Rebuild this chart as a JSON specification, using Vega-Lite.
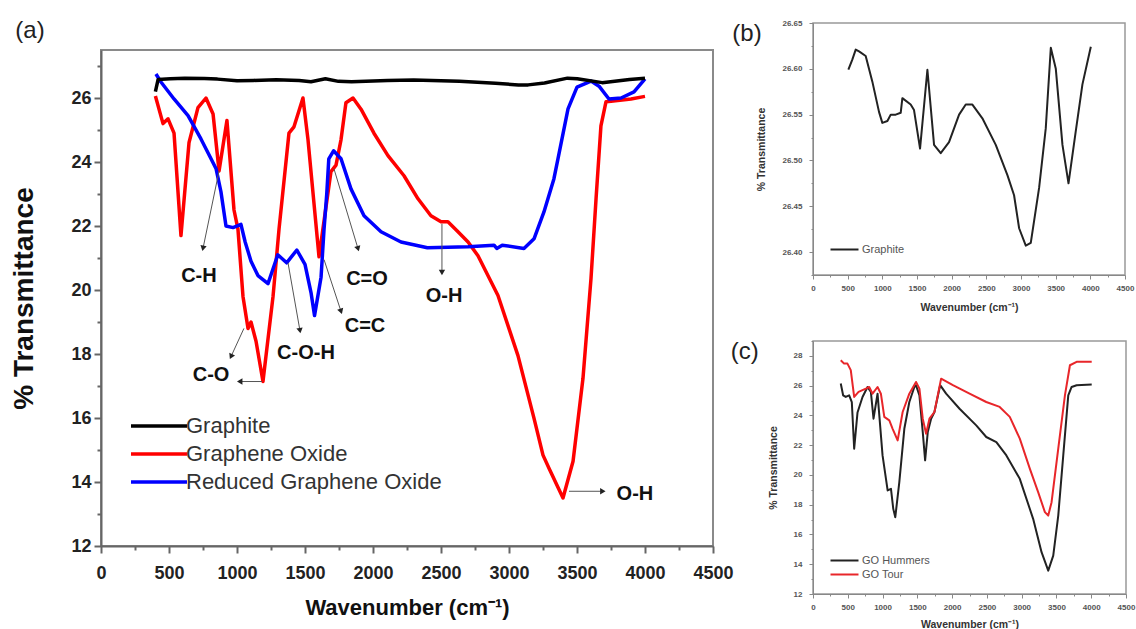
{
  "$schema": "https://vega.github.io/schema/vega-lite/v6.json",
  "background": "white",
  "padding": {"left": 9, "top": 18, "right": 0, "bottom": 0},
  "config": {
    "font": "Liberation Sans",
    "axis": {"grid": false, "labelFlush": false, "labelOverlap": false, "tickCount": 100}
  },
  "datasets": {
    "spectraA": [
      {"series": "Graphene Oxide", "wavenumber": 400, "transmittance": 26.06},
      {"series": "Graphene Oxide", "wavenumber": 456, "transmittance": 25.2},
      {"series": "Graphene Oxide", "wavenumber": 493, "transmittance": 25.35},
      {"series": "Graphene Oxide", "wavenumber": 537, "transmittance": 24.9},
      {"series": "Graphene Oxide", "wavenumber": 588, "transmittance": 21.7},
      {"series": "Graphene Oxide", "wavenumber": 647, "transmittance": 24.6},
      {"series": "Graphene Oxide", "wavenumber": 713, "transmittance": 25.7},
      {"series": "Graphene Oxide", "wavenumber": 772, "transmittance": 26.0},
      {"series": "Graphene Oxide", "wavenumber": 824, "transmittance": 25.5},
      {"series": "Graphene Oxide", "wavenumber": 868, "transmittance": 23.72},
      {"series": "Graphene Oxide", "wavenumber": 926, "transmittance": 25.3},
      {"series": "Graphene Oxide", "wavenumber": 978, "transmittance": 22.5},
      {"series": "Graphene Oxide", "wavenumber": 1007, "transmittance": 21.9},
      {"series": "Graphene Oxide", "wavenumber": 1044, "transmittance": 19.8},
      {"series": "Graphene Oxide", "wavenumber": 1081, "transmittance": 18.8},
      {"series": "Graphene Oxide", "wavenumber": 1103, "transmittance": 19.0},
      {"series": "Graphene Oxide", "wavenumber": 1140, "transmittance": 18.4},
      {"series": "Graphene Oxide", "wavenumber": 1191, "transmittance": 17.14},
      {"series": "Graphene Oxide", "wavenumber": 1265, "transmittance": 19.8},
      {"series": "Graphene Oxide", "wavenumber": 1309, "transmittance": 21.9},
      {"series": "Graphene Oxide", "wavenumber": 1382, "transmittance": 24.9},
      {"series": "Graphene Oxide", "wavenumber": 1419, "transmittance": 25.1},
      {"series": "Graphene Oxide", "wavenumber": 1485, "transmittance": 26.0},
      {"series": "Graphene Oxide", "wavenumber": 1522, "transmittance": 24.7},
      {"series": "Graphene Oxide", "wavenumber": 1603, "transmittance": 21.04},
      {"series": "Graphene Oxide", "wavenumber": 1691, "transmittance": 23.7},
      {"series": "Graphene Oxide", "wavenumber": 1728, "transmittance": 23.9},
      {"series": "Graphene Oxide", "wavenumber": 1765, "transmittance": 24.7},
      {"series": "Graphene Oxide", "wavenumber": 1801, "transmittance": 25.85},
      {"series": "Graphene Oxide", "wavenumber": 1853, "transmittance": 26.0},
      {"series": "Graphene Oxide", "wavenumber": 1912, "transmittance": 25.65},
      {"series": "Graphene Oxide", "wavenumber": 2007, "transmittance": 24.9},
      {"series": "Graphene Oxide", "wavenumber": 2110, "transmittance": 24.2},
      {"series": "Graphene Oxide", "wavenumber": 2228, "transmittance": 23.57},
      {"series": "Graphene Oxide", "wavenumber": 2331, "transmittance": 22.85},
      {"series": "Graphene Oxide", "wavenumber": 2426, "transmittance": 22.32},
      {"series": "Graphene Oxide", "wavenumber": 2500, "transmittance": 22.13},
      {"series": "Graphene Oxide", "wavenumber": 2551, "transmittance": 22.13},
      {"series": "Graphene Oxide", "wavenumber": 2625, "transmittance": 21.82},
      {"series": "Graphene Oxide", "wavenumber": 2699, "transmittance": 21.5},
      {"series": "Graphene Oxide", "wavenumber": 2772, "transmittance": 21.07},
      {"series": "Graphene Oxide", "wavenumber": 2919, "transmittance": 19.83},
      {"series": "Graphene Oxide", "wavenumber": 3066, "transmittance": 17.95},
      {"series": "Graphene Oxide", "wavenumber": 3184, "transmittance": 15.99},
      {"series": "Graphene Oxide", "wavenumber": 3250, "transmittance": 14.84},
      {"series": "Graphene Oxide", "wavenumber": 3294, "transmittance": 14.43},
      {"series": "Graphene Oxide", "wavenumber": 3397, "transmittance": 13.5},
      {"series": "Graphene Oxide", "wavenumber": 3471, "transmittance": 14.65},
      {"series": "Graphene Oxide", "wavenumber": 3544, "transmittance": 17.24},
      {"series": "Graphene Oxide", "wavenumber": 3603, "transmittance": 20.36},
      {"series": "Graphene Oxide", "wavenumber": 3640, "transmittance": 22.85},
      {"series": "Graphene Oxide", "wavenumber": 3676, "transmittance": 25.13},
      {"series": "Graphene Oxide", "wavenumber": 3713, "transmittance": 25.88},
      {"series": "Graphene Oxide", "wavenumber": 3750, "transmittance": 25.9},
      {"series": "Graphene Oxide", "wavenumber": 3897, "transmittance": 25.97},
      {"series": "Graphene Oxide", "wavenumber": 4000, "transmittance": 26.05},
      {"series": "Reduced Graphene Oxide", "wavenumber": 404, "transmittance": 26.75},
      {"series": "Reduced Graphene Oxide", "wavenumber": 441, "transmittance": 26.5},
      {"series": "Reduced Graphene Oxide", "wavenumber": 537, "transmittance": 25.97},
      {"series": "Reduced Graphene Oxide", "wavenumber": 640, "transmittance": 25.45},
      {"series": "Reduced Graphene Oxide", "wavenumber": 735, "transmittance": 24.72},
      {"series": "Reduced Graphene Oxide", "wavenumber": 809, "transmittance": 24.1},
      {"series": "Reduced Graphene Oxide", "wavenumber": 846, "transmittance": 23.79},
      {"series": "Reduced Graphene Oxide", "wavenumber": 882, "transmittance": 23.07},
      {"series": "Reduced Graphene Oxide", "wavenumber": 919, "transmittance": 22.0},
      {"series": "Reduced Graphene Oxide", "wavenumber": 971, "transmittance": 21.95},
      {"series": "Reduced Graphene Oxide", "wavenumber": 1029, "transmittance": 22.05},
      {"series": "Reduced Graphene Oxide", "wavenumber": 1060, "transmittance": 21.5},
      {"series": "Reduced Graphene Oxide", "wavenumber": 1103, "transmittance": 20.9},
      {"series": "Reduced Graphene Oxide", "wavenumber": 1154, "transmittance": 20.45},
      {"series": "Reduced Graphene Oxide", "wavenumber": 1228, "transmittance": 20.2},
      {"series": "Reduced Graphene Oxide", "wavenumber": 1260, "transmittance": 20.6},
      {"series": "Reduced Graphene Oxide", "wavenumber": 1300, "transmittance": 21.1},
      {"series": "Reduced Graphene Oxide", "wavenumber": 1365, "transmittance": 20.85},
      {"series": "Reduced Graphene Oxide", "wavenumber": 1440, "transmittance": 21.25},
      {"series": "Reduced Graphene Oxide", "wavenumber": 1500, "transmittance": 20.8},
      {"series": "Reduced Graphene Oxide", "wavenumber": 1545, "transmittance": 19.9},
      {"series": "Reduced Graphene Oxide", "wavenumber": 1570, "transmittance": 19.2},
      {"series": "Reduced Graphene Oxide", "wavenumber": 1618, "transmittance": 20.4},
      {"series": "Reduced Graphene Oxide", "wavenumber": 1640, "transmittance": 21.9},
      {"series": "Reduced Graphene Oxide", "wavenumber": 1660, "transmittance": 23.0},
      {"series": "Reduced Graphene Oxide", "wavenumber": 1675, "transmittance": 24.1},
      {"series": "Reduced Graphene Oxide", "wavenumber": 1710, "transmittance": 24.35},
      {"series": "Reduced Graphene Oxide", "wavenumber": 1765, "transmittance": 24.1},
      {"series": "Reduced Graphene Oxide", "wavenumber": 1838, "transmittance": 23.16},
      {"series": "Reduced Graphene Oxide", "wavenumber": 1934, "transmittance": 22.32},
      {"series": "Reduced Graphene Oxide", "wavenumber": 2059, "transmittance": 21.82},
      {"series": "Reduced Graphene Oxide", "wavenumber": 2206, "transmittance": 21.5},
      {"series": "Reduced Graphene Oxide", "wavenumber": 2400, "transmittance": 21.32},
      {"series": "Reduced Graphene Oxide", "wavenumber": 2700, "transmittance": 21.35},
      {"series": "Reduced Graphene Oxide", "wavenumber": 2890, "transmittance": 21.4},
      {"series": "Reduced Graphene Oxide", "wavenumber": 2910, "transmittance": 21.3},
      {"series": "Reduced Graphene Oxide", "wavenumber": 2950, "transmittance": 21.4},
      {"series": "Reduced Graphene Oxide", "wavenumber": 3110, "transmittance": 21.3},
      {"series": "Reduced Graphene Oxide", "wavenumber": 3184, "transmittance": 21.6},
      {"series": "Reduced Graphene Oxide", "wavenumber": 3257, "transmittance": 22.44},
      {"series": "Reduced Graphene Oxide", "wavenumber": 3330, "transmittance": 23.47},
      {"series": "Reduced Graphene Oxide", "wavenumber": 3360, "transmittance": 24.1},
      {"series": "Reduced Graphene Oxide", "wavenumber": 3434, "transmittance": 25.66},
      {"series": "Reduced Graphene Oxide", "wavenumber": 3500, "transmittance": 26.34},
      {"series": "Reduced Graphene Oxide", "wavenumber": 3603, "transmittance": 26.53},
      {"series": "Reduced Graphene Oxide", "wavenumber": 3662, "transmittance": 26.37},
      {"series": "Reduced Graphene Oxide", "wavenumber": 3735, "transmittance": 25.97},
      {"series": "Reduced Graphene Oxide", "wavenumber": 3824, "transmittance": 26.0},
      {"series": "Reduced Graphene Oxide", "wavenumber": 3919, "transmittance": 26.19},
      {"series": "Reduced Graphene Oxide", "wavenumber": 4000, "transmittance": 26.6},
      {"series": "Graphite", "wavenumber": 400, "transmittance": 26.2},
      {"series": "Graphite", "wavenumber": 420, "transmittance": 26.58},
      {"series": "Graphite", "wavenumber": 510, "transmittance": 26.6},
      {"series": "Graphite", "wavenumber": 616, "transmittance": 26.62},
      {"series": "Graphite", "wavenumber": 760, "transmittance": 26.61},
      {"series": "Graphite", "wavenumber": 856, "transmittance": 26.59},
      {"series": "Graphite", "wavenumber": 1000, "transmittance": 26.54},
      {"series": "Graphite", "wavenumber": 1121, "transmittance": 26.55},
      {"series": "Graphite", "wavenumber": 1289, "transmittance": 26.57},
      {"series": "Graphite", "wavenumber": 1457, "transmittance": 26.55},
      {"series": "Graphite", "wavenumber": 1544, "transmittance": 26.51},
      {"series": "Graphite", "wavenumber": 1650, "transmittance": 26.6},
      {"series": "Graphite", "wavenumber": 1746, "transmittance": 26.52},
      {"series": "Graphite", "wavenumber": 1842, "transmittance": 26.51},
      {"series": "Graphite", "wavenumber": 2107, "transmittance": 26.55},
      {"series": "Graphite", "wavenumber": 2299, "transmittance": 26.56},
      {"series": "Graphite", "wavenumber": 2636, "transmittance": 26.52},
      {"series": "Graphite", "wavenumber": 2900, "transmittance": 26.46},
      {"series": "Graphite", "wavenumber": 3069, "transmittance": 26.41},
      {"series": "Graphite", "wavenumber": 3141, "transmittance": 26.41},
      {"series": "Graphite", "wavenumber": 3261, "transmittance": 26.47},
      {"series": "Graphite", "wavenumber": 3430, "transmittance": 26.62},
      {"series": "Graphite", "wavenumber": 3502, "transmittance": 26.6},
      {"series": "Graphite", "wavenumber": 3685, "transmittance": 26.48},
      {"series": "Graphite", "wavenumber": 3886, "transmittance": 26.58},
      {"series": "Graphite", "wavenumber": 4000, "transmittance": 26.62}
    ],
    "arrowsA": [
      {"wavenumber": 868, "transmittance": 23.72, "wavenumber2": 750, "transmittance2": 21.3},
      {"wavenumber": 1051, "transmittance": 18.8, "wavenumber2": 956, "transmittance2": 17.92},
      {"wavenumber": 1185, "transmittance": 17.14, "wavenumber2": 1020, "transmittance2": 17.14},
      {"wavenumber": 1375, "transmittance": 20.85, "wavenumber2": 1463, "transmittance2": 18.73},
      {"wavenumber": 1640, "transmittance": 20.95, "wavenumber2": 1765, "transmittance2": 19.33},
      {"wavenumber": 1713, "transmittance": 23.79, "wavenumber2": 1890, "transmittance2": 21.29},
      {"wavenumber": 2507, "transmittance": 22.07, "wavenumber2": 2507, "transmittance2": 20.55},
      {"wavenumber": 3441, "transmittance": 13.71, "wavenumber2": 3690, "transmittance2": 13.71}
    ],
    "labelsA": [
      {"label": "C-H", "wavenumber": 720, "transmittance": 20.45},
      {"label": "C=O", "wavenumber": 1956, "transmittance": 20.33},
      {"label": "C=C", "wavenumber": 1941, "transmittance": 18.86},
      {"label": "C-O-H", "wavenumber": 1507, "transmittance": 18.02},
      {"label": "C-O", "wavenumber": 809, "transmittance": 17.33},
      {"label": "O-H", "wavenumber": 2522, "transmittance": 19.8},
      {"label": "O-H", "wavenumber": 3926, "transmittance": 13.62}
    ],
    "graphiteB": [
      {"series": "Graphite", "wavenumber": 510, "transmittance": 26.599},
      {"series": "Graphite", "wavenumber": 567, "transmittance": 26.61},
      {"series": "Graphite", "wavenumber": 616, "transmittance": 26.621},
      {"series": "Graphite", "wavenumber": 664, "transmittance": 26.619},
      {"series": "Graphite", "wavenumber": 760, "transmittance": 26.614},
      {"series": "Graphite", "wavenumber": 856, "transmittance": 26.586},
      {"series": "Graphite", "wavenumber": 952, "transmittance": 26.553},
      {"series": "Graphite", "wavenumber": 1000, "transmittance": 26.541},
      {"series": "Graphite", "wavenumber": 1073, "transmittance": 26.543},
      {"series": "Graphite", "wavenumber": 1121, "transmittance": 26.55},
      {"series": "Graphite", "wavenumber": 1193, "transmittance": 26.55},
      {"series": "Graphite", "wavenumber": 1265, "transmittance": 26.552},
      {"series": "Graphite", "wavenumber": 1289, "transmittance": 26.568},
      {"series": "Graphite", "wavenumber": 1409, "transmittance": 26.561},
      {"series": "Graphite", "wavenumber": 1457, "transmittance": 26.555},
      {"series": "Graphite", "wavenumber": 1544, "transmittance": 26.513},
      {"series": "Graphite", "wavenumber": 1650, "transmittance": 26.599},
      {"series": "Graphite", "wavenumber": 1746, "transmittance": 26.517},
      {"series": "Graphite", "wavenumber": 1842, "transmittance": 26.508},
      {"series": "Graphite", "wavenumber": 1962, "transmittance": 26.52},
      {"series": "Graphite", "wavenumber": 2107, "transmittance": 26.55},
      {"series": "Graphite", "wavenumber": 2203, "transmittance": 26.561},
      {"series": "Graphite", "wavenumber": 2299, "transmittance": 26.561},
      {"series": "Graphite", "wavenumber": 2443, "transmittance": 26.546},
      {"series": "Graphite", "wavenumber": 2636, "transmittance": 26.517},
      {"series": "Graphite", "wavenumber": 2804, "transmittance": 26.484},
      {"series": "Graphite", "wavenumber": 2900, "transmittance": 26.462},
      {"series": "Graphite", "wavenumber": 2973, "transmittance": 26.426},
      {"series": "Graphite", "wavenumber": 3069, "transmittance": 26.407},
      {"series": "Graphite", "wavenumber": 3141, "transmittance": 26.41},
      {"series": "Graphite", "wavenumber": 3261, "transmittance": 26.47},
      {"series": "Graphite", "wavenumber": 3357, "transmittance": 26.535},
      {"series": "Graphite", "wavenumber": 3430, "transmittance": 26.623},
      {"series": "Graphite", "wavenumber": 3502, "transmittance": 26.6},
      {"series": "Graphite", "wavenumber": 3598, "transmittance": 26.517},
      {"series": "Graphite", "wavenumber": 3685, "transmittance": 26.475},
      {"series": "Graphite", "wavenumber": 3790, "transmittance": 26.532},
      {"series": "Graphite", "wavenumber": 3886, "transmittance": 26.583},
      {"series": "Graphite", "wavenumber": 4007, "transmittance": 26.624}
    ],
    "spectraC": [
      {"series": "GO Hummers", "wavenumber": 399, "transmittance": 26.14},
      {"series": "GO Hummers", "wavenumber": 433, "transmittance": 25.35},
      {"series": "GO Hummers", "wavenumber": 471, "transmittance": 25.24},
      {"series": "GO Hummers", "wavenumber": 520, "transmittance": 25.35},
      {"series": "GO Hummers", "wavenumber": 558, "transmittance": 24.9},
      {"series": "GO Hummers", "wavenumber": 592, "transmittance": 21.76},
      {"series": "GO Hummers", "wavenumber": 640, "transmittance": 24.2},
      {"series": "GO Hummers", "wavenumber": 712, "transmittance": 25.24},
      {"series": "GO Hummers", "wavenumber": 784, "transmittance": 25.91},
      {"series": "GO Hummers", "wavenumber": 832, "transmittance": 25.58},
      {"series": "GO Hummers", "wavenumber": 870, "transmittance": 23.78},
      {"series": "GO Hummers", "wavenumber": 928, "transmittance": 25.46},
      {"series": "GO Hummers", "wavenumber": 1000, "transmittance": 21.31},
      {"series": "GO Hummers", "wavenumber": 1073, "transmittance": 18.96},
      {"series": "GO Hummers", "wavenumber": 1121, "transmittance": 19.07},
      {"series": "GO Hummers", "wavenumber": 1154, "transmittance": 17.72},
      {"series": "GO Hummers", "wavenumber": 1183, "transmittance": 17.16},
      {"series": "GO Hummers", "wavenumber": 1241, "transmittance": 19.52},
      {"series": "GO Hummers", "wavenumber": 1313, "transmittance": 23.1},
      {"series": "GO Hummers", "wavenumber": 1385, "transmittance": 24.9},
      {"series": "GO Hummers", "wavenumber": 1457, "transmittance": 25.91},
      {"series": "GO Hummers", "wavenumber": 1481, "transmittance": 26.03},
      {"series": "GO Hummers", "wavenumber": 1530, "transmittance": 25.35},
      {"series": "GO Hummers", "wavenumber": 1578, "transmittance": 22.88},
      {"series": "GO Hummers", "wavenumber": 1612, "transmittance": 20.98},
      {"series": "GO Hummers", "wavenumber": 1650, "transmittance": 22.88},
      {"series": "GO Hummers", "wavenumber": 1698, "transmittance": 23.78},
      {"series": "GO Hummers", "wavenumber": 1746, "transmittance": 24.23},
      {"series": "GO Hummers", "wavenumber": 1828, "transmittance": 26.03},
      {"series": "GO Hummers", "wavenumber": 1914, "transmittance": 25.46},
      {"series": "GO Hummers", "wavenumber": 2107, "transmittance": 24.45},
      {"series": "GO Hummers", "wavenumber": 2347, "transmittance": 23.33},
      {"series": "GO Hummers", "wavenumber": 2491, "transmittance": 22.55},
      {"series": "GO Hummers", "wavenumber": 2636, "transmittance": 22.21},
      {"series": "GO Hummers", "wavenumber": 2780, "transmittance": 21.31},
      {"series": "GO Hummers", "wavenumber": 2973, "transmittance": 19.74},
      {"series": "GO Hummers", "wavenumber": 3165, "transmittance": 17.05},
      {"series": "GO Hummers", "wavenumber": 3286, "transmittance": 14.81},
      {"series": "GO Hummers", "wavenumber": 3382, "transmittance": 13.57},
      {"series": "GO Hummers", "wavenumber": 3454, "transmittance": 14.58},
      {"series": "GO Hummers", "wavenumber": 3526, "transmittance": 17.27},
      {"series": "GO Hummers", "wavenumber": 3598, "transmittance": 21.31},
      {"series": "GO Hummers", "wavenumber": 3670, "transmittance": 25.35},
      {"series": "GO Hummers", "wavenumber": 3718, "transmittance": 25.91},
      {"series": "GO Hummers", "wavenumber": 3790, "transmittance": 26.03},
      {"series": "GO Hummers", "wavenumber": 4007, "transmittance": 26.07},
      {"series": "GO Tour", "wavenumber": 399, "transmittance": 27.71},
      {"series": "GO Tour", "wavenumber": 447, "transmittance": 27.48},
      {"series": "GO Tour", "wavenumber": 495, "transmittance": 27.48},
      {"series": "GO Tour", "wavenumber": 543, "transmittance": 27.04},
      {"series": "GO Tour", "wavenumber": 592, "transmittance": 25.24},
      {"series": "GO Tour", "wavenumber": 655, "transmittance": 25.58},
      {"series": "GO Tour", "wavenumber": 760, "transmittance": 25.8},
      {"series": "GO Tour", "wavenumber": 808, "transmittance": 25.91},
      {"series": "GO Tour", "wavenumber": 856, "transmittance": 25.46},
      {"series": "GO Tour", "wavenumber": 928, "transmittance": 25.91},
      {"series": "GO Tour", "wavenumber": 976, "transmittance": 25.46},
      {"series": "GO Tour", "wavenumber": 1025, "transmittance": 23.9},
      {"series": "GO Tour", "wavenumber": 1097, "transmittance": 23.67},
      {"series": "GO Tour", "wavenumber": 1145, "transmittance": 23.1},
      {"series": "GO Tour", "wavenumber": 1217, "transmittance": 22.32},
      {"series": "GO Tour", "wavenumber": 1289, "transmittance": 24.23},
      {"series": "GO Tour", "wavenumber": 1385, "transmittance": 25.46},
      {"series": "GO Tour", "wavenumber": 1481, "transmittance": 26.25},
      {"series": "GO Tour", "wavenumber": 1530, "transmittance": 25.8},
      {"series": "GO Tour", "wavenumber": 1578, "transmittance": 23.78},
      {"series": "GO Tour", "wavenumber": 1626, "transmittance": 22.77},
      {"series": "GO Tour", "wavenumber": 1674, "transmittance": 23.78},
      {"series": "GO Tour", "wavenumber": 1746, "transmittance": 24.23},
      {"series": "GO Tour", "wavenumber": 1842, "transmittance": 26.47},
      {"series": "GO Tour", "wavenumber": 2011, "transmittance": 26.03},
      {"series": "GO Tour", "wavenumber": 2251, "transmittance": 25.46},
      {"series": "GO Tour", "wavenumber": 2491, "transmittance": 24.9},
      {"series": "GO Tour", "wavenumber": 2684, "transmittance": 24.57},
      {"series": "GO Tour", "wavenumber": 2829, "transmittance": 23.9},
      {"series": "GO Tour", "wavenumber": 2973, "transmittance": 22.44},
      {"series": "GO Tour", "wavenumber": 3117, "transmittance": 20.42},
      {"series": "GO Tour", "wavenumber": 3237, "transmittance": 18.85},
      {"series": "GO Tour", "wavenumber": 3334, "transmittance": 17.5},
      {"series": "GO Tour", "wavenumber": 3382, "transmittance": 17.27},
      {"series": "GO Tour", "wavenumber": 3430, "transmittance": 18.17},
      {"series": "GO Tour", "wavenumber": 3526, "transmittance": 21.76},
      {"series": "GO Tour", "wavenumber": 3622, "transmittance": 25.35},
      {"series": "GO Tour", "wavenumber": 3694, "transmittance": 27.37},
      {"series": "GO Tour", "wavenumber": 3790, "transmittance": 27.6},
      {"series": "GO Tour", "wavenumber": 4007, "transmittance": 27.6}
    ]
  },
  "spacing": -5,
  "resolve": {"scale": {"color": "independent"}, "legend": {"color": "independent"}},
  "hconcat": [
    {
      "spacing": -6,
      "vconcat": [
        {
          "width": 612,
          "height": 1,
          "view": {"stroke": null},
          "data": {"values": []},
          "mark": {"type": "point", "opacity": 0},
          "encoding": {}
        },
        {
          "width": 612,
          "height": 496,
          "view": {"stroke": "#8a8a8a", "strokeWidth": 2},
          "layer": [
            {
              "data": {"name": "spectraA"},
              "mark": {"type": "line", "strokeWidth": 3.5, "strokeJoin": "round"},
              "encoding": {
                "x": {"field": "wavenumber", "type": "quantitative", "scale": {"domain": [0, 4500], "nice": false},
                  "axis": {"title": "Wavenumber (cm⁻¹)", "values": [0,250,500,750,1000,1250,1500,1750,2000,2250,2500,2750,3000,3250,3500,3750,4000,4250,4500], "format": "d", "tickCount": 100,
                    "labelExpr": "datum.value % 500 === 0 ? datum.label : ''",
                    "tickSize": {"condition": {"test": "datum.value % 500 !== 0", "value": 4}, "value": 7},
                    "labelFontSize": 18, "labelFontWeight": "bold", "labelColor": "#222", "labelPadding": 11,
                    "titleFontSize": 22, "titleFontWeight": "bold", "titleColor": "#111", "titlePadding": 15,
                    "domainColor": "#666", "domainWidth": 2, "tickColor": "#666", "tickWidth": 2}},
                "y": {"field": "transmittance", "type": "quantitative", "scale": {"domain": [12, 27.5], "nice": false, "zero": false},
                  "axis": {"title": "% Transmittance", "values": [12,13,14,15,16,17,18,19,20,21,22,23,24,25,26,27], "format": "d", "tickCount": 100,
                    "labelExpr": "datum.value % 2 === 0 ? datum.label : ''",
                    "tickSize": {"condition": {"test": "datum.value % 2 !== 0", "value": 4}, "value": 7},
                    "labelFontSize": 18, "labelFontWeight": "bold", "labelColor": "#222", "labelPadding": 3,
                    "titleFontSize": 28, "titleFontWeight": "bold", "titleColor": "#111", "titlePadding": 32,
                    "domainColor": "#666", "domainWidth": 2, "tickColor": "#666", "tickWidth": 2}},
                "color": {"field": "series", "type": "nominal",
                  "scale": {"domain": ["Graphite", "Graphene Oxide", "Reduced Graphene Oxide"], "range": ["#000000", "#ff0000", "#0000ff"]},
                  "legend": {"title": null, "orient": "none", "legendX": 28, "legendY": 391, "padding": 0,
                    "symbolType": "M-1,0H4.6", "symbolSize": 400, "symbolStrokeWidth": 3.5,
                    "labelFontSize": 22, "labelColor": "#333", "labelOffset": 33, "labelLimit": 0, "rowPadding": 5}}
              }
            },
            {
              "data": {"name": "arrowsA"},
              "mark": {"type": "rule", "color": "#555", "strokeWidth": 1},
              "encoding": {
                "x": {"field": "wavenumber", "type": "quantitative"},
                "y": {"field": "transmittance", "type": "quantitative"},
                "x2": {"field": "wavenumber2"},
                "y2": {"field": "transmittance2"}
              }
            },
            {
              "data": {"name": "arrowsA"},
              "transform": [{"calculate": "atan2((datum.wavenumber2 - datum.wavenumber) * 612 / 4500, (datum.transmittance2 - datum.transmittance) * 496 / 15.5) * 180 / PI", "as": "heading"}],
              "mark": {"type": "point", "shape": "triangle-up", "filled": true, "color": "#222", "size": 40, "opacity": 1},
              "encoding": {
                "x": {"field": "wavenumber2", "type": "quantitative"},
                "y": {"field": "transmittance2", "type": "quantitative"},
                "angle": {"field": "heading", "type": "quantitative", "scale": null}
              }
            },
            {
              "data": {"name": "labelsA"},
              "mark": {"type": "text", "fontSize": 20, "fontWeight": "bold", "color": "#111"},
              "encoding": {
                "x": {"field": "wavenumber", "type": "quantitative"},
                "y": {"field": "transmittance", "type": "quantitative"},
                "text": {"field": "label"}
              }
            },
            {
              "data": {"values": [{"panel": "(a)"}]},
              "mark": {"type": "text", "fontSize": 24, "color": "#222", "align": "center", "baseline": "middle"},
              "encoding": {
                "x": {"datum": -522},
                "y": {"datum": 28.09},
                "text": {"field": "panel"}
              }
            }
          ]
        }
      ]
    },
    {
      "spacing": 22,
      "resolve": {"scale": {"color": "independent"}, "legend": {"color": "independent"}},
      "vconcat": [
        {
          "width": 312,
          "height": 252,
          "view": {"stroke": "#999", "strokeWidth": 1.5},
          "layer": [
            {
              "data": {"name": "graphiteB"},
              "mark": {"type": "line", "strokeWidth": 2, "strokeJoin": "round"},
              "encoding": {
                "x": {"field": "wavenumber", "type": "quantitative", "scale": {"domain": [0, 4500], "nice": false},
                  "axis": {"title": "Wavenumber (cm⁻¹)", "values": [0,250,500,750,1000,1250,1500,1750,2000,2250,2500,2750,3000,3250,3500,3750,4000,4250,4500], "format": "d", "tickCount": 100,
                    "labelExpr": "datum.value % 500 === 0 ? datum.label : ''",
                    "tickSize": {"condition": {"test": "datum.value % 500 !== 0", "value": 2}, "value": 4},
                    "labelFontSize": 8, "labelFontWeight": "bold", "labelColor": "#555", "labelPadding": 5,
                    "titleFontSize": 10.5, "titleFontWeight": "bold", "titleColor": "#333", "titlePadding": 10,
                    "domainColor": "#888", "tickColor": "#888"}},
                "y": {"field": "transmittance", "type": "quantitative", "scale": {"domain": [26.375, 26.65], "nice": false, "zero": false},
                  "axis": {"title": "% Transmittance", "values": [26.375,26.4,26.425,26.45,26.475,26.5,26.525,26.55,26.575,26.6,26.625,26.65], "format": ".2f", "tickCount": 100,
                    "labelExpr": "abs(datum.value * 20 - round(datum.value * 20)) < 0.01 ? datum.label : ''",
                    "tickSize": {"condition": {"test": "abs(datum.value * 20 - round(datum.value * 20)) >= 0.01", "value": 2}, "value": 4},
                    "labelFontSize": 8, "labelFontWeight": "bold", "labelColor": "#555", "labelPadding": 7,
                    "titleFontSize": 10.5, "titleFontWeight": "bold", "titleColor": "#333", "titlePadding": 15,
                    "domainColor": "#888", "tickColor": "#888"}},
                "color": {"field": "series", "type": "nominal",
                  "scale": {"domain": ["Graphite"], "range": ["#222222"]},
                  "legend": {"title": null, "orient": "none", "legendX": 16, "legendY": 221, "padding": 0,
                    "symbolType": "M-1,0H6", "symbolSize": 64, "symbolStrokeWidth": 2,
                    "labelFontSize": 11, "labelColor": "#555", "labelOffset": 22, "labelLimit": 0}}
              }
            },
            {
              "data": {"values": [{"panel": "(b)"}]},
              "mark": {"type": "text", "fontSize": 24, "color": "#222", "align": "center", "baseline": "middle"},
              "encoding": {
                "x": {"datum": -952},
                "y": {"datum": 26.638},
                "text": {"field": "panel"}
              }
            }
          ]
        },
        {
          "width": 313,
          "height": 253,
          "view": {"stroke": "#999", "strokeWidth": 1.5},
          "layer": [
            {
              "data": {"name": "spectraC"},
              "mark": {"type": "line", "strokeWidth": 2, "strokeJoin": "round"},
              "encoding": {
                "x": {"field": "wavenumber", "type": "quantitative", "scale": {"domain": [0, 4500], "nice": false},
                  "axis": {"title": "Wavenumber (cm⁻¹)", "values": [0,250,500,750,1000,1250,1500,1750,2000,2250,2500,2750,3000,3250,3500,3750,4000,4250,4500], "format": "d", "tickCount": 100,
                    "labelExpr": "datum.value % 500 === 0 ? datum.label : ''",
                    "tickSize": {"condition": {"test": "datum.value % 500 !== 0", "value": 2}, "value": 4},
                    "labelFontSize": 8, "labelFontWeight": "bold", "labelColor": "#555", "labelPadding": 5,
                    "titleFontSize": 10.5, "titleFontWeight": "bold", "titleColor": "#333", "titlePadding": 8,
                    "domainColor": "#888", "tickColor": "#888"}},
                "y": {"field": "transmittance", "type": "quantitative", "scale": {"domain": [12, 29], "nice": false, "zero": false},
                  "axis": {"title": "% Transmittance", "values": [12,13,14,15,16,17,18,19,20,21,22,23,24,25,26,27,28,29], "format": "d", "tickCount": 100,
                    "labelExpr": "datum.value % 2 === 0 ? datum.label : ''",
                    "tickSize": {"condition": {"test": "datum.value % 2 !== 0", "value": 2}, "value": 4},
                    "labelFontSize": 8, "labelFontWeight": "bold", "labelColor": "#555", "labelPadding": 7,
                    "titleFontSize": 10.5, "titleFontWeight": "bold", "titleColor": "#333", "titlePadding": 15,
                    "domainColor": "#888", "tickColor": "#888"}},
                "color": {"field": "series", "type": "nominal",
                  "scale": {"domain": ["GO Hummers", "GO Tour"], "range": ["#222222", "#e8262a"]},
                  "legend": {"title": null, "orient": "none", "legendX": 16, "legendY": 214, "padding": 0,
                    "symbolType": "M-1,0H6", "symbolSize": 64, "symbolStrokeWidth": 2,
                    "labelFontSize": 11, "labelColor": "#555", "labelOffset": 22, "labelLimit": 0, "rowPadding": 2}}
              }
            },
            {
              "data": {"values": [{"panel": "(c)"}]},
              "mark": {"type": "text", "fontSize": 24, "color": "#222", "align": "center", "baseline": "middle"},
              "encoding": {
                "x": {"datum": -981},
                "y": {"datum": 28.26},
                "text": {"field": "panel"}
              }
            }
          ]
        }
      ]
    }
  ]
}
